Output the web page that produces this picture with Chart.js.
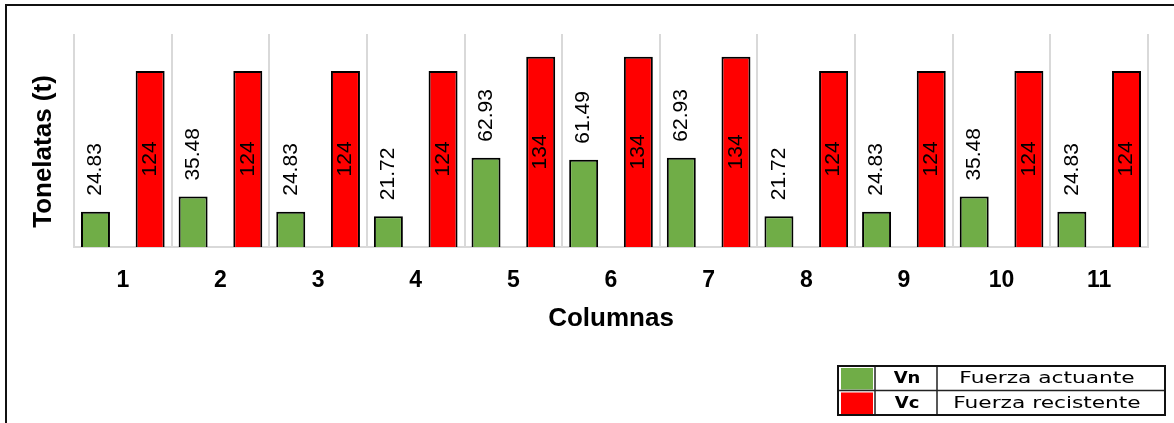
<!DOCTYPE html>
<html>
<head>
<meta charset="utf-8">
<script src="https://cdn.jsdelivr.net/npm/chart.js@4.4.1/dist/chart.umd.min.js"></script>
<style>
  html, body { margin: 0; padding: 0; background: #fff; }
  #wrap { position: relative; width: 1174px; height: 423px; overflow: hidden; }
  #frame { position: absolute; left: 5px; top: 4px; right: -10px; bottom: -10px;
           border-left: 2px solid #111; border-top: 2px solid #111; }
  #chart { position: absolute; left: 0; top: 0; }
</style>
</head>
<body>
<div id="wrap">
  <div id="frame"></div>
  <canvas id="chart" width="1174" height="423"></canvas>
</div>
<script>
/* ---- datos ---- */
const columnas = ['1', '2', '3', '4', '5', '6', '7', '8', '9', '10', '11'];
const vn = [24.83, 35.48, 24.83, 21.72, 62.93, 61.49, 62.93, 21.72, 24.83, 35.48, 24.83];
const vc = [124, 124, 124, 124, 134, 134, 134, 124, 124, 124, 124];
const codigos = ['Vn', 'Vc'];
const descripciones = ['Fuerza actuante', 'Fuerza recistente'];
const tituloY = 'Tonelatas (t)';

const VERDE = '#70AD47', ROJO = '#FF0000';
const FONT = '"Liberation Sans", Arial, sans-serif';

/* ---- etiquetas de valor (verticales) ---- */
const valueLabels = {
  id: 'valueLabels',
  afterDatasetsDraw(chart) {
    const { ctx } = chart;
    ctx.save();
    ctx.font = '21px ' + FONT;
    ctx.fillStyle = '#000';
    ctx.textBaseline = 'middle';
    chart.data.datasets.forEach((ds, i) => {
      chart.getDatasetMeta(i).data.forEach((bar, j) => {
        ctx.save();
        if (i === 0) {
          ctx.translate(bar.x, bar.y - 16);
          ctx.textAlign = 'left';
        } else {
          ctx.translate(bar.x, (bar.y + bar.base) / 2);
          ctx.textAlign = 'center';
        }
        ctx.rotate(-Math.PI / 2);
        ctx.fillText(String(ds.data[j]), 0, 0);
        ctx.restore();
      });
    });
    ctx.restore();
  }
};

/* ---- título del eje Y, algo por debajo del centro ---- */
const ejeY = {
  id: 'ejeY',
  afterDraw(chart) {
    const { ctx, chartArea } = chart;
    ctx.save();
    ctx.translate(44, (chartArea.top + chartArea.bottom) / 2 + 11);
    ctx.rotate(-Math.PI / 2);
    ctx.font = 'bold 26px ' + FONT;
    ctx.fillStyle = '#000';
    ctx.textAlign = 'center';
    ctx.textBaseline = 'middle';
    ctx.fillText(tituloY, 0, 0);
    ctx.restore();
  }
};

/* ---- leyenda en tabla ---- */
const tablaLeyenda = {
  id: 'tablaLeyenda',
  afterDraw(chart) {
    const { ctx } = chart;
    const x0 = 838, x1 = 875, x2 = 937, x3 = 1165;
    const y0 = 366, h = 24.5;
    ctx.save();
    chart.data.datasets.forEach((ds, i) => {
      const y = y0 + i * h;
      ctx.fillStyle = ds.backgroundColor;
      ctx.fillRect(x0 + 3, y + 2, x1 - x0 - 5, h - 3);
      const cy = y + h / 2 + 1;
      ctx.fillStyle = '#000';
      ctx.textBaseline = 'middle';
      ctx.textAlign = 'center';
      ctx.save();
      ctx.translate((x1 + x2) / 2 + 1, cy);
      ctx.scale(1.2, 1);
      ctx.font = 'bold 15px "DejaVu Sans", Verdana, sans-serif';
      ctx.fillText(codigos[i], 0, 0);
      ctx.restore();
      ctx.save();
      ctx.translate((x2 + x3) / 2 - 4, cy);
      ctx.scale(1.4, 1);
      ctx.font = '15.5px "DejaVu Sans", Verdana, sans-serif';
      ctx.fillText(descripciones[i], 0, 0);
      ctx.restore();
    });
    ctx.strokeStyle = '#222';
    ctx.lineWidth = 1.5;
    ctx.beginPath();
    ctx.moveTo(x0, y0 + h); ctx.lineTo(x3, y0 + h);
    ctx.moveTo(x1, y0); ctx.lineTo(x1, y0 + 2 * h);
    ctx.moveTo(x2, y0); ctx.lineTo(x2, y0 + 2 * h);
    ctx.stroke();
    ctx.strokeStyle = '#111';
    ctx.lineWidth = 2;
    ctx.strokeRect(x0, y0, x3 - x0, 2 * h);
    ctx.restore();
  }
};

new Chart(document.getElementById('chart'), {
  type: 'bar',
  data: {
    labels: columnas,
    datasets: [
      { label: codigos[0], data: vn, backgroundColor: VERDE, borderColor: '#000', borderWidth: 2 },
      { label: codigos[1], data: vc, backgroundColor: ROJO, borderColor: '#000', borderWidth: 2 }
    ]
  },
  options: {
    responsive: false,
    animation: false,
    datasets: { bar: { categoryPercentage: 1.12, barPercentage: 0.53 } },
    layout: { padding: { top: 34, right: 26, left: 0, bottom: 0 } },
    plugins: { legend: { display: false }, tooltip: { enabled: false } },
    scales: {
      x: {
        grid: { color: '#d9d9d9', lineWidth: 2, drawTicks: false, offset: true },
        border: { color: '#d9d9d9', width: 2 },
        ticks: { color: '#000', padding: 20, font: { family: FONT, size: 23, weight: 'bold' } },
        title: { display: true, text: 'Columnas', color: '#000',
                 font: { family: FONT, size: 26, weight: 'bold' }, padding: { top: 0, bottom: 89 } },
        afterFit: s => { s.height = 176; }
      },
      y: {
        min: 0, max: 150,
        ticks: { display: false },
        grid: { display: false },
        border: { display: false },
        afterFit: s => { s.width = 74; }
      }
    }
  },
  plugins: [valueLabels, ejeY, tablaLeyenda]
});
</script>
</body>
</html>
